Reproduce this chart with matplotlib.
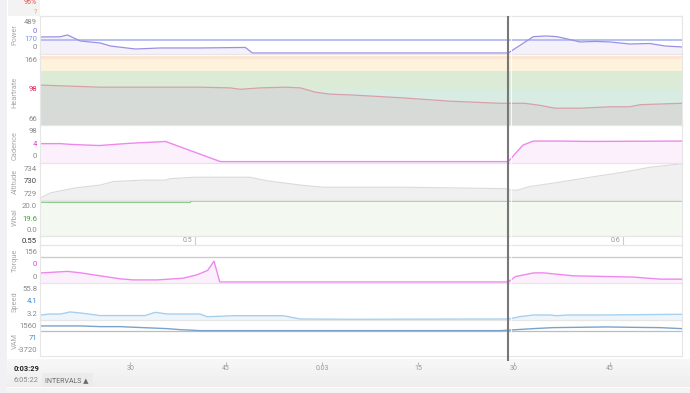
import matplotlib
matplotlib.use('agg')
import matplotlib.pyplot as plt
import numpy as np

plt.rcParams['font.family'] = ['Roboto', 'DejaVu Sans']

W, H = 690, 393
T0, T1 = 135.9, 236.25
CURSOR = 209.1

# time in seconds
power_t = [136, 139, 140.2, 142.2, 145.3, 146.9, 150.8, 154.7, 160.9, 168, 169.1,
           209.1, 213, 215, 216.7, 219, 220.3, 222.7, 225, 228.1, 231.2, 233.6, 236.25]
power_w = [218, 220, 245, 163, 136, 95, 54, 68, 68, 75, 0,
           0, 222, 231, 222, 177, 150, 157, 150, 122, 129, 95, 82]
ftp = 170

hr_t = [136, 145.3, 160.9, 165.6, 167.2, 170.3, 174.2, 176.6, 178.9, 181.25, 184.4,
        192.2, 200, 207.8, 211.7, 214.1, 216.4, 220.3, 225, 228.1, 229.7, 236.25]
hr_bpm = [123, 120, 120, 119, 117, 119, 120, 119, 113, 110, 109,
          105, 100, 97, 97, 94, 90, 90, 92, 92, 95, 97]
hr_zones = [(116, 143.1, '#dcebd6'), (143.1, 160.3, '#fdf3dc'),
            (160.3, 164.6, '#fde4d3'), (66, 116, '#d8ece4')]

cad_t = [136, 139.1, 140.6, 144.8, 145.3, 150, 154.7, 155.5, 164.1,
         209.1, 210.5, 211.4, 213, 217.2, 221.9, 236.25]
cad_rpm = [50, 50, 48, 45, 45, 51, 55, 56, 1,
           1, 29, 46, 57, 57, 56, 57]

alt_t = [136, 137.5, 141.4, 145.3, 147.4, 152, 155.5, 156.3, 160, 168.75, 171.4,
         176.6, 180.2, 192.2, 208.6, 209.4, 210.6, 212.5, 215.6, 221.9, 227, 231.25, 236.25]
alt_m = [729.3, 730.0, 730.7, 731.1, 731.6, 731.8, 731.8, 732.0, 732.2, 732.2, 731.7,
         731.1, 730.8, 730.8, 730.6, 730.4, 730.4, 730.9, 731.3, 732.2, 732.9, 733.6, 734.1]

wbal_t = [136, 159.4, 159.5, 236.25]
wbal_kj = [19.3, 19.3, 20.0, 20.0]

dist_t = [160.2, 227.1]
dist_labels = ['0.5', '0.6']

torque_t = [136, 140.2, 142.2, 145.3, 148.4, 150.5, 154.2, 158.3, 160.5, 162.1, 163.1, 164,
            209.1, 210.2, 213, 214.5, 219.2, 228.6, 232.8, 236.25]
torque_nm = [57, 67, 58, 39, 20, 13, 13, 24, 46, 73, 132, 0,
             0, 34, 57, 58, 39, 31, 18, 18]

speed_t = [136, 137.5, 139.1, 140.6, 142.2, 145.3, 152.3, 153.9, 155.8, 160.9, 162,
           164.1, 166.1, 173.9, 176.6, 184.4, 207.8, 209.1, 210.9, 213, 215.6, 216.7,
           218.3, 223.4, 236.25]
speed_kmh = [10.3, 11.7, 11.7, 14.6, 13.2, 9.5, 9.5, 14.1, 11.7, 11.7, 7.9,
             8.5, 9.3, 9.3, 4.6, 4.2, 4.6, 4.6, 7.9, 10.3, 10.3, 9.3,
             10.3, 10.3, 11.3]

vam_t = [136, 142.2, 145.3, 148.4, 152, 155.8, 157.8, 160.9, 207.8, 209.1,
         213, 216.1, 224.5, 228.6, 232.8, 236.25]
vam_mh = [690, 690, 587, 587, 440, 293, 147, 0, 0, 70,
          293, 440, 543, 484, 440, 293]

ticks_t = [150, 165, 180, 195, 210, 225]
ticks_lab = ['30', '45', '0:03', '15', '30', '45']


def box(x0, y0, x1, y1):
    return [x0 / W, 1 - y1 / H, (x1 - x0) / W, (y1 - y0) / H]


def fy(y):
    return 1 - y / H


fig = plt.figure(figsize=(W / 100, H / 100), dpi=100)
fig.patch.set_facecolor('white')

# page chrome
bg = fig.add_axes([0, 0, 1, 1])
bg.axis('off')
grad = np.linspace(0, 1, 30).reshape(-1, 1)
bg.imshow(grad, extent=(7, W, 387, 359), cmap=matplotlib.colors.LinearSegmentedColormap.from_list(
    'g', ['#f8f8f8', '#eeeeee']), aspect='auto', zorder=0)
bg.add_patch(plt.Rectangle((0, 0), 7, H, color='#f1f1f5', lw=0))
bg.add_patch(plt.Rectangle((8, 0), 32, 16, color='#f3f3f3', lw=0))
bg.add_patch(plt.Rectangle((7, 388), W, 5, color='#f4f4f4', lw=0))
bg.add_patch(plt.Rectangle((42, 373), 51, 14, color='#ebebeb', lw=0))
bg.set_xlim(0, W)
bg.set_ylim(H, 0)
bg.plot([40, 682], [16, 16], color='#e8e8e8', lw=0.8)

fig.text(37 / W, fy(3), '96%', color='#e84a4a', fontsize=5, ha='right', va='center')
fig.text(37 / W, fy(13), '?', color='#f0a050', fontsize=5, ha='right', va='center')


def panel(y0, y1, ylim):
    ax = fig.add_axes(box(40, y0, 682, y1))
    ax.set_xlim(T0, T1)
    ax.set_ylim(*ylim)
    ax.set_xticks([])
    ax.set_yticks([])
    ax.patch.set_alpha(0)
    for s in ax.spines.values():
        s.set_color('#e6e6e6')
        s.set_linewidth(0.8)
    return ax


def labels(y0, y1, top, mids, bottom, name, name_y):
    kw = dict(fontsize=5.6, ha='right', va='center')
    fig.text(37 / W, fy(y0 + 6), top, color='#8a8a8a', **kw)
    fig.text(37 / W, fy(y1 - 6), bottom, color='#8a8a8a', **kw)
    for txt, yy, col in mids:
        fig.text(37 / W, fy(yy), txt, color=col, **kw)
    fig.text(15 / W, fy(name_y), name, color='#a8a8a8', fontsize=5.3,
             rotation=90, ha='center', va='center')


# Power
ax = panel(16, 54, (-14, 503))
ax.fill_between(power_t, power_w, -14, color='#f4f1fb', lw=0)
ax.axhline(ftp, color='#aebcf2', lw=1.3)
ax.plot(power_t, power_w, color='#9d8fe2', lw=0.9)
labels(16, 53, '489', [('0', 31, '#7b6ee0'), ('170', 39, '#7a98e8')], '0', 'Power', 35)

# Heartrate
ax = panel(54, 125, (66, 167.4))
for lo, hi, col in hr_zones:
    ax.axhspan(lo, hi, color=col, lw=0)
ax.fill_between(hr_t, hr_bpm, 66, color='#d6d6d4', alpha=0.75, lw=0)
ax.plot(hr_t, hr_bpm, color='#d8a0a8', lw=0.9)
labels(54, 125, '166', [('98', 89, '#e0245a')], '66', 'Heartrate', 92)

# Cadence
ax = panel(125, 163, (-2.8, 100.8))
ax.fill_between(cad_t, cad_rpm, -2.8, color='#fcf0fc', lw=0)
ax.plot(cad_t, cad_rpm, color='#ee88ee', lw=1)
labels(125, 162, '98', [('4', 144, '#e040e0')], '0', 'Cadence', 145)

# Altitude
ax = panel(163, 200, (729, 734.2))
ax.fill_between(alt_t, alt_m, 729, color='#f0f0f0', lw=0)
ax.plot(alt_t, alt_m, color='#dadada', lw=0.8)
labels(163, 200, '734', [('730', 181, '#444444')], '729', 'Altitude', 181)

# W'bal
ax = panel(200, 236, (0, 20.6))
ax.fill_between(wbal_t, wbal_kj, 0, color='#f3f8f1', lw=0)
ax.plot(wbal_t, wbal_kj, color='#8ec98b', lw=1)
labels(200, 236, '20.0', [('19.6', 219, '#3aa53a')], '0.0', "W'bal", 217)

# distance strip
ax = panel(236, 245, (0, 1))
for t, lab in zip(dist_t, dist_labels):
    ax.axvline(t, color='#cccccc', lw=0.8)
    ax.text(t - 0.5, 0.5, lab, fontsize=5, color='#999999', ha='right', va='center')
fig.text(37 / W, fy(241), '0.55', color='#333333', fontsize=5.6, ha='right', va='center')

# Torque
ax = panel(245, 283, (-6.5, 234))
ax.axhline(156, color='#cccccc', lw=1)
ax.fill_between(torque_t, torque_nm, -6.5, color='#fcf0fc', lw=0)
ax.plot(torque_t, torque_nm, color='#ee88ee', lw=1)
labels(246, 283, '156', [('0', 264, '#e040e0')], '0', 'Torque', 260)

# Speed
ax = panel(283, 320, (3.2, 55.8))
ax.fill_between(speed_t, speed_kmh, 3.2, color='#eef6fc', lw=0)
ax.plot(speed_t, speed_kmh, color='#a6d0ee', lw=1)
labels(283, 320, '55.8', [('4.1', 301, '#3d8fd8')], '3.2', 'Speed', 302)

# VAM
ax = panel(320, 356, (-3720, 1560))
ax.axhline(0, color='#bdbdbd', lw=0.9)
ax.plot(vam_t, vam_mh, color='#79a3cc', lw=1)
labels(320, 356, '1560', [('71', 338, '#3d8fd8')], '-3720', 'VAM', 341)

# time axis
tx = fig.add_axes(box(40, 359, 682, 388))
tx.set_xlim(T0, T1)
tx.set_ylim(388, 359)
tx.axis('off')
tx.vlines(ticks_t, 361.5, 365, color='#aaaaaa', lw=0.6)
for t, lab in zip(ticks_t, ticks_lab):
    tx.text(t, 369, lab, fontsize=5, color='#999999', ha='center', va='center')

fig.text(14 / W, fy(369), '0:03:29', fontsize=5.4, fontweight='bold', color='#222222',
         ha='left', va='center')
fig.text(14 / W, fy(380.5), '6:05:22', fontsize=5.4, color='#8a8a8a', ha='left', va='center')
fig.text(45 / W, fy(380.5), 'INTERVALS \u25b2', fontsize=5, color='#6a6a6a',
         ha='left', va='center')

# cursor
cx = fig.add_axes(box(40, 16, 682, 361))
cx.set_xlim(T0, T1)
cx.set_ylim(0, 1)
cx.axis('off')
cx.axvline(CURSOR, color='#777777', lw=1.5)
cx.axvline(CURSOR + 0.35, ymin=0.03, color='white', lw=0.6)

fig.savefig('out.png', dpi=100)
